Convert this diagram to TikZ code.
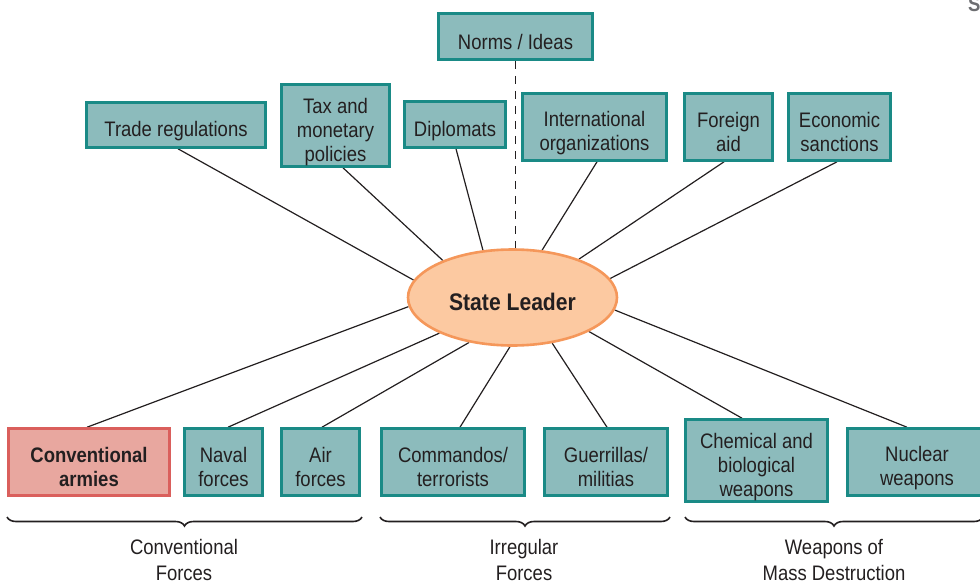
\documentclass[tikz,border=0pt]{standalone}
\usepackage{fontspec}
\setmainfont{Liberation Sans}[FakeStretch=0.88]
\usetikzlibrary{decorations.pathreplacing,shapes.geometric,backgrounds}
\definecolor{tealfill}{HTML}{8CBBBC}
\definecolor{tealline}{HTML}{1A8A86}
\definecolor{pinkfill}{HTML}{E8A79F}
\definecolor{pinkline}{HTML}{DA5F5C}
\definecolor{leaderfill}{HTML}{FCC9A1}
\definecolor{leaderline}{HTML}{F5975A}
\definecolor{ink}{HTML}{231F20}
\definecolor{cutgray}{HTML}{6D6E71}
\newcommand{\tstr}{\rule{0pt}{28pt}}
\newcommand{\bstr}{\rule[-3pt]{0pt}{3pt}}
\begin{document}
\begin{tikzpicture}[x=1pt,y=-1pt,
  font=\fontsize{21}{24}\selectfont,
  every node/.style={text=ink},
  box/.style={draw=tealline, fill=tealfill, line width=2.6pt, inner sep=0pt, align=center},
  redbox/.style={box, draw=pinkline, fill=pinkfill, font=\fontsize{21}{24}\selectfont\bfseries},
  leaderstyle/.style={ellipse, draw=leaderline, fill=leaderfill, line width=2.6pt, inner sep=0pt,
    minimum width=209pt, minimum height=96pt, font=\fontsize{24}{28}\selectfont\bfseries},
  link/.style={draw=ink, line width=1.2pt},
  normlink/.style={link, line width=1.3pt, dash pattern=on 8pt off 7pt},
  bracestyle/.style={draw=ink, line width=1.6pt, decorate, decoration={brace, mirror, amplitude=9pt}},
  grouplabel/.style={align=center, inner sep=0pt, font=\fontsize{21}{25.5}\selectfont}
]
\useasboundingbox (0,0) rectangle (980,584);

% top row
\node[box, minimum width=154pt, minimum height=46pt] (norms) at (515.5,36.5) {\tstr Norms / Ideas\bstr};
\node[box, minimum width=179pt, minimum height=45pt] (trade) at (176,125) {\tstr Trade regulations\bstr};
\node[box, minimum width=108pt, minimum height=82pt] (tax) at (335.5,125.5) {\tstr Tax and\\monetary\\policies\bstr};
\node[box, minimum width=101pt, minimum height=46pt] (dipl) at (455,124.5) {\tstr Diplomats\bstr};
\node[box, minimum width=144pt, minimum height=67pt] (intl) at (594.5,127) {\tstr International\\organizations\bstr};
\node[box, minimum width=88pt, minimum height=67pt] (aid) at (728.5,127) {\tstr Foreign\\aid\bstr};
\node[box, minimum width=102pt, minimum height=67pt] (econ) at (839.5,127) {\tstr Economic\\sanctions\bstr};

% centre
\node[leaderstyle] (leader) at (512.5,297.5) {\rule{0pt}{29pt}State Leader\bstr};

% bottom row
\node[redbox, minimum width=161pt, minimum height=67pt] (conv) at (89,462) {\tstr Conventional\\armies\bstr};
\node[box, minimum width=78pt, minimum height=67pt] (naval) at (223.5,462) {\tstr Naval\\forces\bstr};
\node[box, minimum width=78pt, minimum height=67pt] (air) at (320.5,462) {\tstr Air\\forces\bstr};
\node[box, minimum width=143pt, minimum height=67pt] (cmd) at (453,462) {\tstr Commandos/\\terrorists\bstr};
\node[box, minimum width=123pt, minimum height=67pt] (guer) at (606,462) {\tstr Guerrillas/\\militias\bstr};
\node[box, minimum width=142pt, minimum height=82pt] (chem) at (756.5,460.5) {\tstr Chemical and\\biological\\weapons\bstr};
\node[box, minimum width=139pt, minimum height=67pt] (nuc) at (917,462) {\tstr Nuclear\\weapons\bstr};

% connectors
\begin{scope}[on background layer]
\draw[link] ([xshift=2pt]trade.south) -- (leader.170.3);
\draw[link] ([xshift=7.5pt]tax.south) -- (leader.152);
\draw[link] ([xshift=1pt]dipl.south) -- (leader.122.7);
\draw[normlink] (norms.south) -- (norms.south |- leader.north);
\draw[link] ([xshift=2.5pt]intl.south) -- (leader.58.7);
\draw[link] ([xshift=-4.5pt]aid.south) -- (leader.30.3);
\draw[link] ([xshift=-2.5pt]econ.south) -- (leader.11.1);
\draw[link] ([xshift=-2pt]conv.north) -- (leader.185.2);
\draw[link] ([xshift=4.5pt]naval.north) -- (leader.206.1);
\draw[link] ([xshift=1.5pt]air.north) -- (leader.226.3);
\draw[link] ([xshift=7pt]cmd.north) -- (leader.267.2);
\draw[link] ([xshift=1pt]guer.north) -- (leader.311.7);
\draw[link] ([xshift=-14.5pt]chem.north) -- (leader.336);
\draw[link] ([xshift=-10pt]nuc.north) -- (leader.353.7);
\end{scope}

% braces
\coordinate (b1a) at (7,517);
\coordinate (b1b) at (362,517);
\coordinate (b2a) at (380,517);
\coordinate (b2b) at (670,517);
\coordinate (b3a) at (685,517);
\coordinate (b3b) at (983,517);
\draw[bracestyle] (b1a) -- (b1b);
\draw[bracestyle] (b2a) -- (b2b);
\draw[bracestyle] (b3a) -- (b3b);

\node[grouplabel] (lconv) at (184,560) {Conventional\\Forces};
\node[grouplabel] (lirr) at (524,560) {Irregular\\Forces};
\node[grouplabel] (lwmd) at (834,560) {Weapons of\\Mass Destruction};

% cut-off letter at the top right
\node[anchor=base west, inner sep=0pt, text=cutgray, font=\fontsize{21}{24}\selectfont\bfseries] (cut) at (968,11) {S};
\end{tikzpicture}
\end{document}
